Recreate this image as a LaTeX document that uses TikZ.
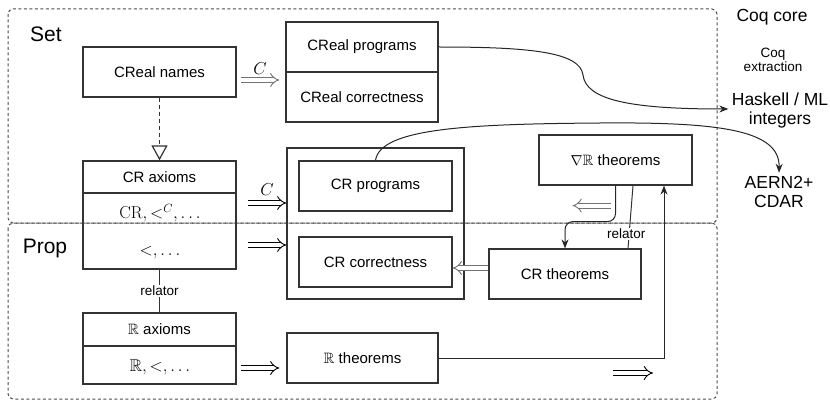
\documentclass[tikz,border=0pt]{standalone}
\usepackage{amssymb}
\usepackage[no-math]{fontspec}
\setmainfont{Liberation Sans}
\usetikzlibrary{arrows.meta}
\newcommand{\lblfont}{\fontsize{15}{18}\selectfont}
\newcommand{\mathlblfont}{\fontsize{17}{20}\selectfont}
\newcommand{\bigfont}{\fontsize{17.5}{21}\selectfont}
\newcommand{\hugefont}{\fontsize{21}{25}\selectfont}
\newcommand{\smallfont}{\fontsize{13.5}{16}\selectfont}
\begin{document}
\begin{tikzpicture}[x=1pt, y=-1pt,
  box/.style={draw=black!80, line width=1.2pt, inner sep=0pt, font=\lblfont,
              minimum width=153pt, minimum height=50pt},
  txt/.style={inner sep=0pt, font=\mathlblfont},
  frame/.style={draw=black!70, line width=1pt, dash pattern=on 3pt off 2.5pt, rounded corners=5pt},
  impl/.style={double, double distance=4pt, line width=0.9pt, -{Implies}},
  fadedimpl/.style={impl, draw=black!55},
  arr/.style={line width=1pt, draw=black!85, -{Stealth[length=9pt, width=7pt]}},
  plain/.style={line width=1pt, draw=black!80},
  lab/.style={inner sep=1pt, fill=white, font=\smallfont},
  clab/.style={inner sep=0pt, font=\mathlblfont}]
\useasboundingbox (0,0) rectangle (830,401);

% Set / Prop universes
\draw[frame] (8,9) rectangle (717,223);
\draw[frame] (8,223) rectangle (717,399);
\node[font=\hugefont] (set) at (46,34) {Set};
\node[font=\hugefont] (prop) at (45,248) {Prop};

% right-hand targets
\node[font=\bigfont] (coqcore) at (772,17) {Coq core};
\node[font=\smallfont, align=center] (coqext) at (773,60) {Coq\\[-2pt]extraction};
\node[font=\bigfont, align=center] (haskell) at (780,110) {Haskell / ML\\[-2pt]integers};
\node[font=\bigfont, align=center] (aern) at (779,192) {AERN2+\\[-2pt]CDAR};

% CReal level
\node[box] (crealnames) at (159.5,72) {CReal names};
\node[box, minimum width=152pt] (crealprog) at (362,47) {CReal programs};
\node[box, minimum width=152pt] (crealcorr) at (362,97) {CReal correctness};

% CR axioms
\node[box, minimum height=32pt] (craxhead) at (159.5,177) {CR axioms};
\node[box, minimum height=76pt] (craxbody) at (159.5,231) {};
\node[txt] (craxset) at (160,213) {$\mathrm{CR}, <^{C}, \ldots$};
\node[txt] (craxprop) at (160,253) {$<, \ldots$};

% R axioms
\node[box, minimum height=33pt] (raxhead) at (159.5,329.5) {$\mathbb{R}$ axioms};
\node[box, minimum height=38pt] (raxbody) at (159.5,365) {};
\node[txt] (raxtxt) at (160,367) {$\mathbb{R}, <, \ldots$};

% CR programs / correctness
\node[box, minimum width=177pt, minimum height=151pt] (crouter) at (375.5,223.5) {};
\node[box] (crprog) at (375.5,186) {CR programs};
\node[box] (crcorr) at (375.5,262) {CR correctness};

% theorems
\node[box] (nablathm) at (615.5,160) {$\nabla\mathbb{R}$ theorems};
\node[box, minimum width=152pt] (crthm) at (565,274) {CR theorems};
\node[box, minimum width=151pt] (rthm) at (362.5,358) {$\mathbb{R}$ theorems};

% inheritance CReal names -> CR axioms
\draw[plain, dash pattern=on 4pt off 3pt,
      -{Triangle[open, length=15pt, width=16pt, line width=1.2pt]}]
  (crealnames.south) -- (craxhead.north);

% relators
\draw[plain] (craxbody.south) -- node[lab] (rel1) {relator} (raxhead.north);
\draw[plain] ([xshift=17.5]nablathm.south) -- node[lab, pos=0.77, xshift=-3pt] (rel2) {relator} ([xshift=63]crthm.north);

% implication arrows
\draw[fadedimpl] ([shift={(4,8)}]crealnames.east) -- node[clab, above=5pt] (c1) {$C$} ([shift={(-6,-17)}]crealcorr.west);
\draw[impl] ([shift={(11,-28)}]craxbody.east) -- node[clab, above=7pt] (c2) {$C$} ([shift={(0,-20.5)}]crouter.west);
\draw[impl] ([shift={(11,14)}]craxbody.east) -- ([shift={(0,21.5)}]crouter.west);
\draw[impl] ([shift={(4,3)}]raxbody.east) -- ([shift={(-7,10)}]rthm.west);
\draw[fadedimpl] ([shift={(0,-6)}]crthm.west) -- ([shift={(0,6)}]crcorr.east);
\draw[fadedimpl] ([shift={(-5,20)}]nablathm.south) -- ([shift={(-43,20)}]nablathm.south);
\coordinate (tailR) at (613,373);
\coordinate (headR) at (653,373);
\draw[impl] (tailR) -- (headR);

% theorem transfer
\draw[arr] (rthm.east) -| ([xshift=48.5]nablathm.south);
\draw[arr, rounded corners=8pt] (nablathm.south) -- ++(0,36) -| (crthm.north);

% extraction
\draw[arr] (crealprog.east) .. controls (530,47) and (580,52) .. (583,75)
  .. controls (586,100) and (630,109) .. (haskell.west |- 0,109);
\draw[arr] (crprog.north) .. controls (380,128) and (470,124) .. (600,123)
  .. controls (720,122) and (780,130) .. (aern.north);
\end{tikzpicture}
\end{document}
